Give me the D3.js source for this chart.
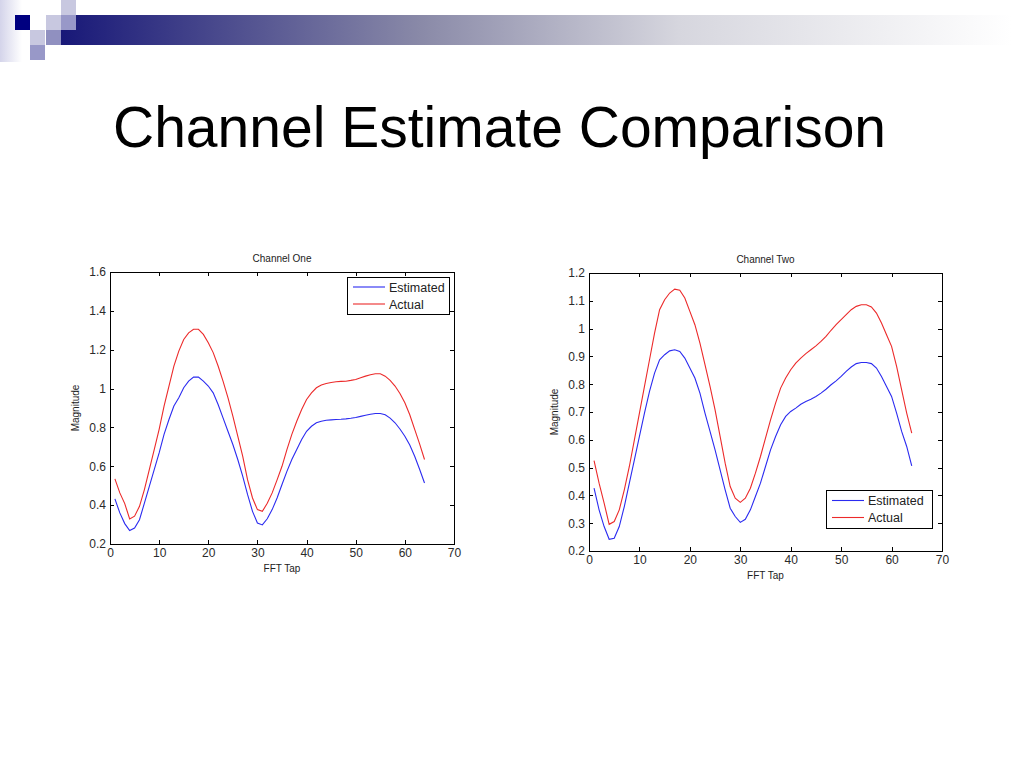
<!DOCTYPE html>
<html lang="en">
<head>
<meta charset="utf-8">
<title>Channel Estimate Comparison</title>
<script src="https://cdn.jsdelivr.net/npm/d3@7"></script>
<style>
  body { margin: 0; background: #fff; }
  svg { display: block; font-family: "Liberation Sans", Arial, sans-serif; }
  .axis path, .axis line { fill: none; stroke: #000; shape-rendering: crispEdges; }
  .axis text { font-size: 12px; fill: #2a2a2a; }
</style>
</head>
<body>
<script>
// FFT tap index, 1..64
var taps = d3.range(1, 65);

// Channel One
var ch1Estimated = [0.432,0.36,0.305,0.269,0.282,0.325,0.41,0.497,0.583,0.669,
  0.764,0.841,0.91,0.953,1.004,1.038,1.059,1.059,1.038,1.013,
  0.978,0.918,0.849,0.78,0.712,0.635,0.549,0.454,0.368,0.308,
  0.298,0.33,0.377,0.437,0.506,0.574,0.635,0.686,0.738,0.78,
  0.806,0.824,0.832,0.837,0.839,0.841,0.842,0.844,0.847,0.851,
  0.857,0.863,0.868,0.872,0.872,0.865,0.848,0.824,0.792,0.755,
  0.71,0.652,0.585,0.514];
var ch1Actual = [0.535,0.463,0.408,0.329,0.343,0.394,0.48,0.583,0.686,0.79,
  0.91,1.013,1.116,1.193,1.253,1.287,1.305,1.305,1.279,1.236,
  1.185,1.116,1.038,0.953,0.858,0.755,0.652,0.53,0.437,0.377,
  0.368,0.41,0.463,0.53,0.6,0.686,0.764,0.832,0.892,0.944,
  0.978,1.004,1.018,1.026,1.031,1.035,1.037,1.038,1.042,1.047,
  1.056,1.064,1.071,1.076,1.076,1.064,1.042,1.013,0.975,0.927,
  0.865,0.79,0.715,0.635];

// Channel Two
var ch2Estimated = [0.426,0.348,0.288,0.242,0.246,0.288,0.36,0.444,0.528,0.612,
  0.696,0.774,0.84,0.888,0.906,0.92,0.924,0.918,0.894,0.858,
  0.822,0.768,0.696,0.63,0.564,0.492,0.42,0.354,0.324,0.303,
  0.314,0.348,0.396,0.444,0.504,0.564,0.612,0.654,0.684,0.702,
  0.714,0.728,0.738,0.746,0.756,0.768,0.782,0.798,0.812,0.828,
  0.846,0.862,0.874,0.878,0.878,0.874,0.858,0.828,0.792,0.756,
  0.696,0.63,0.576,0.506];
var ch2Actual = [0.525,0.444,0.372,0.296,0.306,0.348,0.42,0.504,0.6,0.696,
  0.792,0.888,0.984,1.068,1.104,1.128,1.142,1.138,1.11,1.062,
  1.014,0.948,0.87,0.792,0.708,0.612,0.516,0.432,0.39,0.375,
  0.39,0.426,0.48,0.54,0.606,0.672,0.732,0.786,0.822,0.852,
  0.876,0.894,0.91,0.924,0.938,0.954,0.972,0.994,1.014,1.032,
  1.05,1.068,1.08,1.086,1.086,1.078,1.056,1.02,0.978,0.936,
  0.864,0.78,0.696,0.624];

var xTicks = [0, 10, 20, 30, 40, 50, 60, 70];
var ch1YTicks = [0.2, 0.4, 0.6, 0.8, 1, 1.2, 1.4, 1.6];
var ch2YTicks = [0.2, 0.3, 0.4, 0.5, 0.6, 0.7, 0.8, 0.9, 1, 1.1, 1.2];
var seriesNames = ["Estimated", "Actual"];
var seriesColors = ["#2b2bf0", "#ec2a2a"];

var w = 1024, h = 768;
var svg = d3.select("body").append("svg").attr("width", w).attr("height", h);

// slide decoration
var defs = svg.append("defs");
var grad = defs.append("linearGradient").attr("id", "bar-grad");
grad.append("stop").attr("offset", "0%").attr("stop-color", "#181878");
grad.append("stop").attr("offset", "38%").attr("stop-color", "#8a8aa8");
grad.append("stop").attr("offset", "65%").attr("stop-color", "#d6d6de");
grad.append("stop").attr("offset", "100%").attr("stop-color", "#ffffff");
var side = defs.append("linearGradient").attr("id", "side-grad");
side.append("stop").attr("offset", "0%").attr("stop-color", "#d4d4ea");
side.append("stop").attr("offset", "100%").attr("stop-color", "#ffffff");

svg.append("rect").attr("x", 0).attr("y", 0).attr("width", 22).attr("height", 62).attr("fill", "url(#side-grad)");
svg.append("rect").attr("x", 61).attr("y", 15).attr("width", 950).attr("height", 30).attr("fill", "url(#bar-grad)");
var squares = [
  [15, 15, "#000080"], [46, 15, "#c8c8e0"], [61, 0, "#c8c8e0"], [61, 15, "#9898c8"],
  [30, 30, "#c8c8e0"], [46, 30, "#9090c0"], [30, 45, "#9898c8"]
];
svg.selectAll("rect.sq").data(squares).enter().append("rect").attr("class", "sq")
  .attr("x", function(d) { return d[0]; }).attr("y", function(d) { return d[1]; })
  .attr("width", 15).attr("height", 15).attr("fill", function(d) { return d[2]; });

svg.append("text").attr("x", 113).attr("y", 147)
  .style("font-size", "57px").attr("fill", "#000").text("Channel Estimate Comparison");

function drawChart(opt) {
  var x = d3.scaleLinear().domain([0, 70]).range([opt.left, opt.right]);
  var y = d3.scaleLinear().domain(opt.yDomain).range([opt.bottom, opt.top]);
  var g = svg.append("g");

  var tick = 4;
  g.append("g").attr("class", "axis").attr("transform", "translate(0," + opt.bottom + ")")
    .call(d3.axisBottom(x).tickValues(xTicks).tickFormat(d3.format("d")).tickSizeInner(-tick).tickSizeOuter(0).tickPadding(4));
  g.append("g").attr("class", "axis").attr("transform", "translate(0," + opt.top + ")")
    .call(d3.axisTop(x).tickValues(xTicks).tickSizeInner(-tick).tickSizeOuter(0).tickFormat(""));
  g.append("g").attr("class", "axis").attr("transform", "translate(" + opt.left + ",0)")
    .call(d3.axisLeft(y).tickValues(opt.yTicks).tickFormat(d3.format("~g")).tickSizeInner(-tick).tickSizeOuter(0).tickPadding(4));
  g.append("g").attr("class", "axis").attr("transform", "translate(" + opt.right + ",0)")
    .call(d3.axisRight(y).tickValues(opt.yTicks).tickSizeInner(-tick).tickSizeOuter(0).tickFormat(""));
  g.selectAll(".axis .domain").remove();
  g.append("rect").attr("x", opt.left).attr("y", opt.top)
    .attr("width", opt.right - opt.left).attr("height", opt.bottom - opt.top)
    .attr("fill", "none").attr("stroke", "#000").attr("shape-rendering", "crispEdges");

  var line = d3.line().x(function(d, i) { return x(taps[i]); }).y(function(d) { return y(d); });
  [opt.estimated, opt.actual].forEach(function(s, k) {
    g.append("path").datum(s).attr("d", line).attr("fill", "none")
      .attr("stroke", seriesColors[k]).attr("stroke-width", 1.1);
  });

  var cx = (opt.left + opt.right) / 2;
  g.append("text").attr("x", cx).attr("y", opt.top - 10).attr("text-anchor", "middle")
    .style("font-size", "10px").attr("fill", "#222").text(opt.title);
  g.append("text").attr("x", cx).attr("y", opt.bottom + 28).attr("text-anchor", "middle")
    .style("font-size", "10px").attr("fill", "#222").text("FFT Tap");
  g.append("text").attr("transform", "translate(" + (opt.left - 31) + "," + ((opt.top + opt.bottom) / 2) + ") rotate(-90)")
    .attr("text-anchor", "middle").style("font-size", "10px").attr("fill", "#222").text("Magnitude");

  // legend
  var lg = g.append("g").attr("transform", "translate(" + opt.legend[0] + "," + opt.legend[1] + ")");
  lg.append("rect").attr("width", opt.legend[2]).attr("height", opt.legend[3])
    .attr("fill", "#fff").attr("stroke", "#000").attr("shape-rendering", "crispEdges");
  seriesNames.forEach(function(name, k) {
    var ly = opt.legend[3] / 2 + (k - 0.5) * 17;
    lg.append("line").attr("x1", 6).attr("x2", 38).attr("y1", ly).attr("y2", ly)
      .attr("stroke", seriesColors[k]).attr("stroke-width", 1.1);
    lg.append("text").attr("x", 42).attr("y", ly + 4.5).style("font-size", "12.5px")
      .attr("fill", "#222").text(name);
  });
}

drawChart({ left: 110, right: 454, top: 272, bottom: 544, yDomain: [0.2, 1.6], yTicks: ch1YTicks,
  estimated: ch1Estimated, actual: ch1Actual, title: "Channel One", legend: [347, 277, 102, 37] });
drawChart({ left: 589, right: 942, top: 273, bottom: 551, yDomain: [0.2, 1.2], yTicks: ch2YTicks,
  estimated: ch2Estimated, actual: ch2Actual, title: "Channel Two", legend: [826, 490, 106, 38] });
</script>
</body>
</html>
